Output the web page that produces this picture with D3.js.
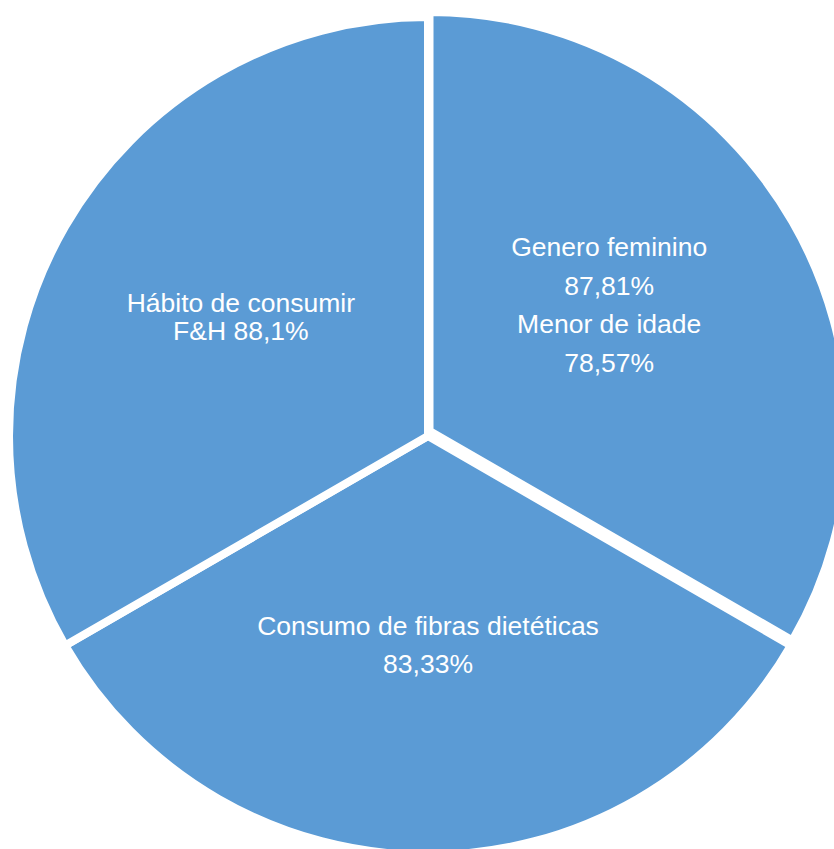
<!DOCTYPE html>
<html>
<head>
<meta charset="utf-8">
<script src="https://cdn.jsdelivr.net/npm/d3@7"></script>
<style>
  body { margin: 0; background: #fff; }
  svg { display: block; }
</style>
</head>
<body>
<svg></svg>
<script>
let width = 834, height = 849;

// Data (slices are equal thirds, clockwise from 12 o'clock)
const categories = ["Genero feminino", "Consumo de fibras dietéticas", "Hábito de consumir"];
const sliceValues = [1, 1, 1];
// label lines for each slice
const labelLines = [
    ["Genero feminino", "87,81%", "Menor de idade", "78,57%"],
    ["Consumo de fibras dietéticas", "83,33%"],
    ["Hábito de consumir", "F&H 88,1%"]
];
const exploded = [true, false, false];

let svg = d3.select("svg")
    .attr("width", width)
    .attr("height", height);

let cx = 428, cy = 436, radius = 419;
let lineGap = [38.5, 38, 28];      // spacing between label lines
let labelShiftX = [-6.5, 0, -1];   // horizontal nudge of label block
let labelShiftY = [-19, -6, -11.5]; // vertical nudge of label block
let explodeOffset = [1.5, -5];

let pie = d3.pie().sort(null).value(d => d)(sliceValues);

let arc = d3.arc().innerRadius(0).outerRadius(radius);
let labelArc = d3.arc().innerRadius(215).outerRadius(215);

let g = svg.append("g").attr("transform", "translate(" + cx + "," + cy + ")");

let slices = g.selectAll("g.slice")
    .data(pie)
    .enter()
    .append("g")
    .attr("class", "slice")
    .attr("transform", (d, i) => exploded[i] ? "translate(" + explodeOffset[0] + "," + explodeOffset[1] + ")" : null);

slices.append("path")
    .attr("d", arc)
    .attr("fill", "#5B9BD5")
    .attr("stroke", "#ffffff")
    .attr("stroke-width", 8)
    .attr("stroke-linejoin", "miter");

// Labels
slices.each(function (d, i) {
    let c = labelArc.centroid(d);
    let lines = labelLines[i];
    let x = c[0] + labelShiftX[i];
    let top = c[1] + labelShiftY[i] - (lines.length - 1) * lineGap[i] / 2;
    let t = d3.select(this).append("text")
        .attr("text-anchor", "middle")
        .attr("fill", "#ffffff")
        .style("font-family", "'Liberation Sans', Arial, sans-serif")
        .style("font-size", "26.5px");
    lines.forEach((s, j) => {
        t.append("tspan")
            .attr("x", x)
            .attr("y", top + j * lineGap[i])
            .attr("dy", "0.35em")
            .text(s);
    });
});
</script>
</body>
</html>
